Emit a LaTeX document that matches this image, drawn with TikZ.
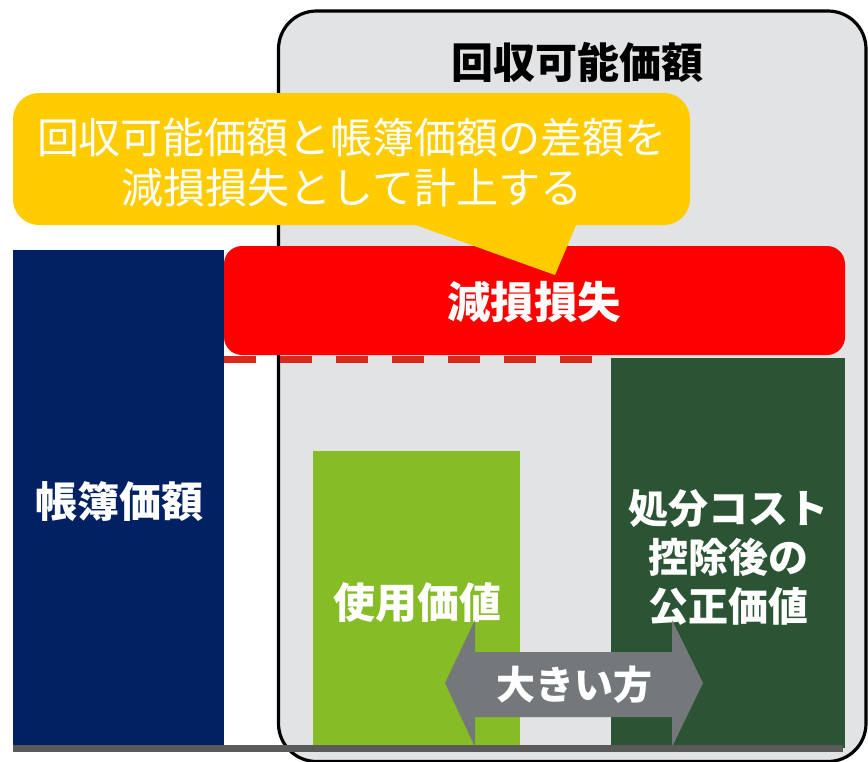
\documentclass[tikz,border=0pt]{standalone}
\usepackage{fontspec}
\newfontfamily\jp{Noto Sans CJK JP}
\definecolor{boxgray}{HTML}{E2E3E5}
\definecolor{navy}{HTML}{022163}
\definecolor{lgreen}{HTML}{86BC25}
\definecolor{dgreen}{HTML}{2B5434}
\definecolor{lossred}{HTML}{FF0000}
\definecolor{dashred}{HTML}{DA291C}
\definecolor{callyellow}{HTML}{FFCC00}
\definecolor{arrowgray}{HTML}{75787B}
\definecolor{basegray}{HTML}{5A5A5A}
\tikzset{
  wlabel/.style={text=white, font=\jp\bfseries\fontsize{42}{49}\selectfont, align=center, inner sep=0pt},
  clabel/.style={text=white, font=\jp\fontsize{42}{50}\selectfont, align=center, inner sep=0pt},
}
\begin{document}
\begin{tikzpicture}[x=1pt,y=-1pt]
\useasboundingbox (0,0) rectangle (868,761);
% recoverable amount box
\draw[fill=boxgray, line width=3.2pt, rounded corners=38pt] (278.5,11) rectangle (866,761.5);
\node[inner sep=0pt, font=\jp\bfseries\fontsize{42}{46}\selectfont] (title) at (577,62) {回収可能価額};
% book value bar
\fill[navy] (13,250) rectangle (224,748);
\node[wlabel] (book) at (119,502) {帳簿価額};
% dashed line
\draw[dashred, line width=7pt, dash pattern=on 32pt off 24pt] (224,359.5) -- (592,359.5);
% impairment loss box
\fill[lossred, rounded corners=18pt] (224,246) rectangle (845,355);
\node[wlabel, font=\jp\bfseries\fontsize{43.5}{49}\selectfont] (loss) at (534,302) {減損損失};
% callout
\fill[callyellow, rounded corners=26pt] (13,93) rectangle (690,225);
\fill[callyellow] (410,223) -- (577,223) -- (555,275) -- cycle;
\node[clabel] (note) at (352,163) {回収可能価額と帳簿価額の差額を\\減損損失として計上する};
% value in use
\fill[lgreen] (313,451) rectangle (520,748);
\node[wlabel] (viu) at (417,603) {使用価値};
% fair value less costs of disposal
\fill[dgreen] (611,358) rectangle (845,748);
\node[wlabel, font=\jp\bfseries\fontsize{40}{49}\selectfont] (fv) at (728,557) {処分コスト\\控除後の\\公正価値};
% double arrow
\fill[arrowgray] (445,683) -- (475,620) -- (475,652) -- (672,652) -- (672,620) -- (703,683) -- (672,747) -- (672,717) -- (475,717) -- (475,747) -- cycle;
\node[wlabel, font=\jp\bfseries\fontsize{39}{45}\selectfont] (larger) at (574,685) {大きい方};
% base line
\fill[basegray] (13,745) rectangle (843,752);
\end{tikzpicture}
\end{document}
